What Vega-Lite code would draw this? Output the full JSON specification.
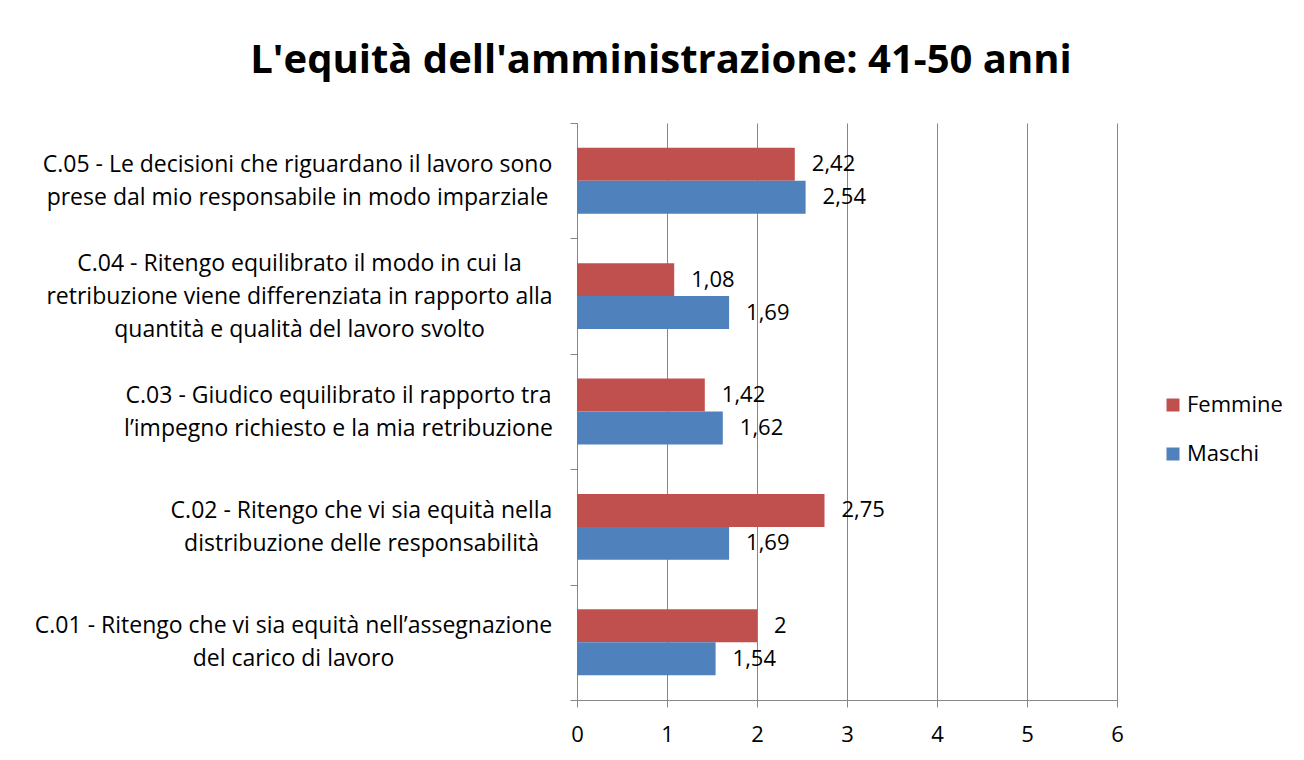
{
  "$schema": "https://vega.github.io/schema/vega-lite/v6.json",
  "width": 540,
  "height": 577,
  "autosize": "none",
  "padding": {"left": 577, "top": 123, "right": 187, "bottom": 60},
  "background": "white",
  "config": {"font": "Open Sans", "view": {"stroke": null}},
  "title": {
    "text": "L'equità dell'amministrazione: 41-50 anni",
    "fontSize": 40,
    "fontWeight": "bold",
    "font": "Open Sans",
    "color": "black",
    "anchor": "middle",
    "frame": "group",
    "dx": -186,
    "offset": 31
  },
  "data": {
    "values": [
      {"q": "C.05 - Le decisioni che riguardano il lavoro sono|prese dal mio responsabile in modo imparziale", "g": "Femmine", "v": 2.42, "lab": "2,42"},
      {"q": "C.05 - Le decisioni che riguardano il lavoro sono|prese dal mio responsabile in modo imparziale", "g": "Maschi", "v": 2.54, "lab": "2,54"},
      {"q": "C.04 - Ritengo equilibrato il modo in cui la|retribuzione viene differenziata in rapporto alla|quantità e qualità del lavoro svolto", "g": "Femmine", "v": 1.08, "lab": "1,08"},
      {"q": "C.04 - Ritengo equilibrato il modo in cui la|retribuzione viene differenziata in rapporto alla|quantità e qualità del lavoro svolto", "g": "Maschi", "v": 1.69, "lab": "1,69"},
      {"q": "C.03 - Giudico equilibrato il rapporto tra|l’impegno richiesto e la mia retribuzione", "g": "Femmine", "v": 1.42, "lab": "1,42"},
      {"q": "C.03 - Giudico equilibrato il rapporto tra|l’impegno richiesto e la mia retribuzione", "g": "Maschi", "v": 1.62, "lab": "1,62"},
      {"q": "C.02 - Ritengo che vi sia equità nella|distribuzione delle responsabilità", "g": "Femmine", "v": 2.75, "lab": "2,75"},
      {"q": "C.02 - Ritengo che vi sia equità nella|distribuzione delle responsabilità", "g": "Maschi", "v": 1.69, "lab": "1,69"},
      {"q": "C.01 - Ritengo che vi sia equità nell’assegnazione|del carico di lavoro", "g": "Femmine", "v": 2, "lab": "2"},
      {"q": "C.01 - Ritengo che vi sia equità nell’assegnazione|del carico di lavoro", "g": "Maschi", "v": 1.54, "lab": "1,54"}
    ]
  },
  "encoding": {
    "y": {
      "field": "q",
      "type": "nominal",
      "sort": null,
      "scale": {"paddingInner": 0, "paddingOuter": 0},
      "axis": {
        "title": null,
        "labelExpr": "isString(datum.value) ? split(datum.value, '|') : ''",
        "labelFontSize": 23,
        "labelFont": "Open Sans",
        "labelColor": "black",
        "labelLineHeight": 33,
        "labelAlign": "center",
        "labelBaseline": "middle",
        "labelPadding": {
          "condition": [
            {"test": "isString(datum.value) && indexof(datum.value, 'C.05') == 0", "value": 273},
            {"test": "isString(datum.value) && indexof(datum.value, 'C.04') == 0", "value": 271},
            {"test": "isString(datum.value) && indexof(datum.value, 'C.03') == 0", "value": 232},
            {"test": "isString(datum.value) && indexof(datum.value, 'C.02') == 0", "value": 209}
          ],
          "value": 277
        },
        "labelOffset": {
          "condition": {"test": "isString(datum.value) && indexof(datum.value, 'C.04') == 0", "value": -33},
          "value": -16.5
        },
        "labelLimit": 0,
        "tickBand": "extent",
        "tickSize": 7,
        "tickColor": "#868686",
        "domainColor": "#868686",
        "grid": false
      }
    },
    "yOffset": {
      "field": "g",
      "type": "nominal",
      "sort": ["Femmine", "Maschi"],
      "scale": {"paddingInner": 0, "paddingOuter": 0.75}
    },
    "x": {
      "field": "v",
      "type": "quantitative",
      "scale": {"domain": [0, 6], "nice": false},
      "axis": {
        "title": null,
        "values": [0, 1, 2, 3, 4, 5, 6],
        "format": "d",
        "labelFlush": false,
        "labelFontSize": 22,
        "labelFont": "Open Sans",
        "labelColor": "black",
        "labelPadding": 17,
        "tickSize": 7,
        "tickColor": "#868686",
        "domainColor": "#868686",
        "grid": true,
        "gridColor": "#868686",
        "gridOpacity": 1
      }
    }
  },
  "layer": [
    {
      "mark": {"type": "bar", "cornerRadius": 0},
      "encoding": {
        "color": {
          "field": "g",
          "type": "nominal",
          "scale": {"domain": ["Femmine", "Maschi"], "range": ["#C0504D", "#4F81BD"]},
          "legend": {
            "title": null,
            "orient": "none",
            "legendX": 585,
            "legendY": 271,
            "padding": 0,
            "symbolType": "square",
            "symbolSize": 169,
            "symbolStrokeWidth": 0,
            "labelFontSize": 22,
            "labelFont": "Open Sans",
            "labelColor": "black",
            "labelOffset": 3,
            "rowPadding": 27
          }
        }
      }
    },
    {
      "mark": {"type": "text", "align": "left", "baseline": "middle", "dx": 17, "fontSize": 22, "font": "Open Sans", "color": "black"},
      "encoding": {"text": {"field": "lab"}}
    }
  ]
}
